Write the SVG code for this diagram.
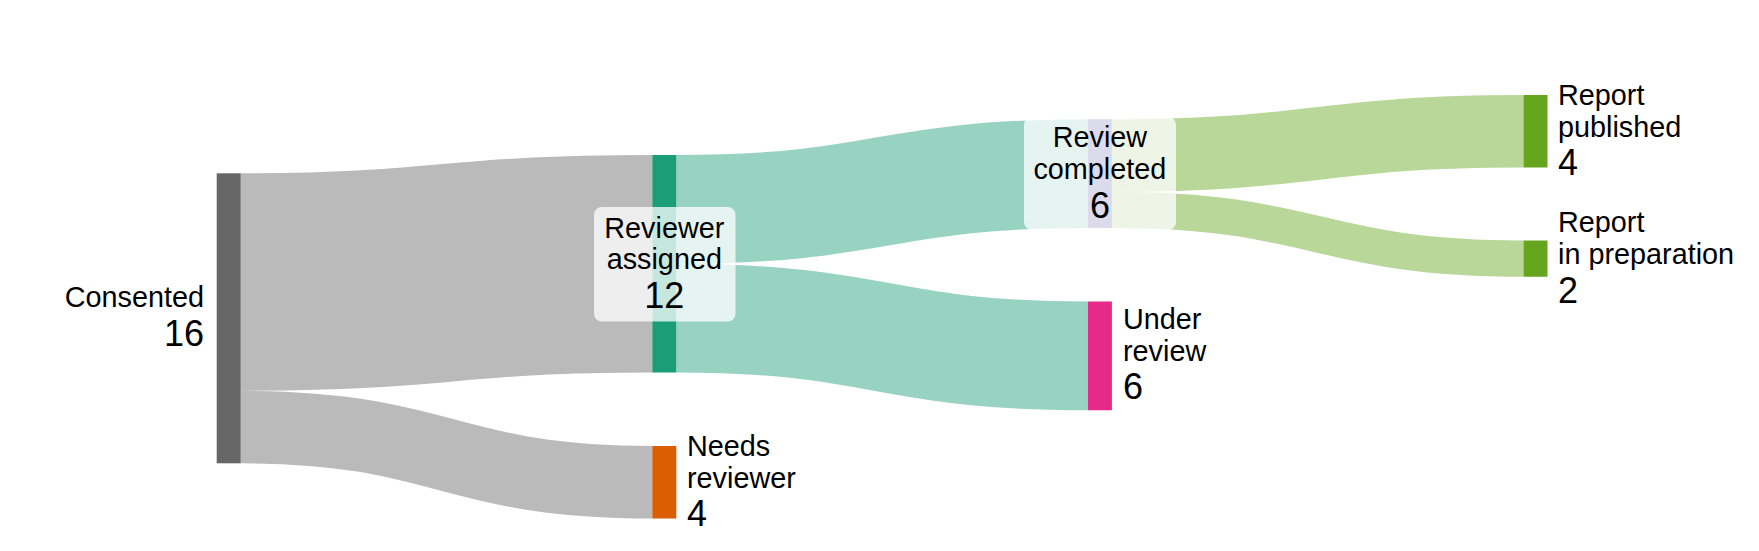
<svg xmlns="http://www.w3.org/2000/svg" width="1759" height="551" viewBox="0 0 1759 551">
<style>
  .link { fill: none; stroke-opacity: 0.45; }
  .lbl { font-family: "Liberation Sans", Arial, Helvetica, sans-serif; fill: #000; }
  .nm { font-size: 28.8px; }
  .val { font-size: 36px; }
  .box { fill: #ffffff; fill-opacity: 0.75; }
</style>
<rect x="0" y="0" width="1759" height="551" fill="#ffffff"/>
<g id="links">
  <path class="link" stroke="#666666" stroke-width="217.5" d="M240.7,282.05 C446.5,282.05 446.5,263.75 652.3,263.75"/>
  <path class="link" stroke="#666666" stroke-width="72.5" d="M240.7,427.05 C446.5,427.05 446.5,482.25 652.3,482.25"/>
  <path class="link" stroke="#1b9e77" stroke-width="108.75" d="M676.3,209.4 C882.1,209.4 882.1,173.65 1087.9,173.65"/>
  <path class="link" stroke="#1b9e77" stroke-width="108.75" d="M676.3,318.1 C882.1,318.1 882.1,355.9 1087.9,355.9"/>
  <path class="link" stroke="#66a61e" stroke-width="72.5" d="M1111.9,155.55 C1317.7,155.55 1317.7,131.25 1523.5,131.25"/>
  <path class="link" stroke="#66a61e" stroke-width="36.25" d="M1111.9,209.9 C1317.7,209.9 1317.7,258.6 1523.5,258.6"/>
</g>
<g id="node-consented">
  <rect x="216.7" y="173.3" width="24" height="290" fill="#666666"/>
  <text class="lbl" text-anchor="end"><tspan class="nm" x="204" y="307.3">Consented</tspan><tspan class="val" x="204" y="346">16</tspan></text>
</g>
<g id="node-reviewer-assigned">
  <rect x="652.3" y="155" width="24" height="217.5" fill="#1b9e77"/>
  <rect class="box" x="594" y="207" width="141.5" height="114.5" rx="8"/>
  <text class="lbl" text-anchor="middle"><tspan class="nm" x="664.3" y="237.5">Reviewer</tspan><tspan class="nm" x="664.3" y="269">assigned</tspan><tspan class="val" x="664.3" y="308">12</tspan></text>
</g>
<g id="node-needs-reviewer">
  <rect x="652.3" y="446" width="24" height="72.5" fill="#d95f02"/>
  <text class="lbl"><tspan class="nm" x="687" y="456">Needs</tspan><tspan class="nm" x="687" y="487.8">reviewer</tspan><tspan class="val" x="687" y="525.5">4</tspan></text>
</g>
<g id="node-review-completed">
  <rect x="1087.9" y="119.3" width="24" height="108.75" fill="#7570b3"/>
  <rect class="box" x="1024" y="117" width="152" height="113" rx="8"/>
  <text class="lbl" text-anchor="middle"><tspan class="nm" x="1099.9" y="147">Review</tspan><tspan class="nm" x="1099.9" y="179">completed</tspan><tspan class="val" x="1099.9" y="218">6</tspan></text>
</g>
<g id="node-under-review">
  <rect x="1087.9" y="301.5" width="24" height="108.75" fill="#e7298a"/>
  <text class="lbl"><tspan class="nm" x="1123" y="329.4">Under</tspan><tspan class="nm" x="1123" y="360.8">review</tspan><tspan class="val" x="1123" y="398.5">6</tspan></text>
</g>
<g id="node-report-published">
  <rect x="1523.5" y="95" width="24" height="72.5" fill="#66a61e"/>
  <text class="lbl"><tspan class="nm" x="1558" y="105">Report</tspan><tspan class="nm" x="1558" y="136.7">published</tspan><tspan class="val" x="1558" y="175">4</tspan></text>
</g>
<g id="node-report-in-preparation">
  <rect x="1523.5" y="240.5" width="24" height="36.25" fill="#66a61e"/>
  <text class="lbl"><tspan class="nm" x="1558" y="232">Report</tspan><tspan class="nm" x="1558" y="264">in preparation</tspan><tspan class="val" x="1558" y="302.5">2</tspan></text>
</g>
</svg>
